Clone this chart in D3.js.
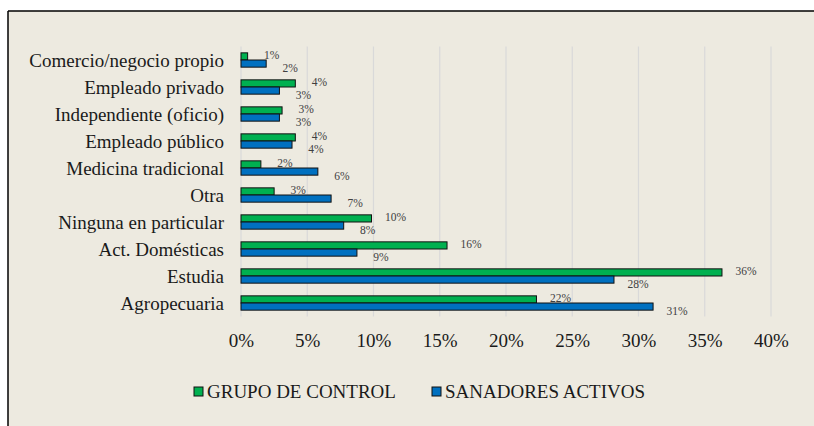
<!DOCTYPE html>
<html><head><meta charset="utf-8">
<script src="https://cdn.jsdelivr.net/npm/d3@7"></script>
<style>html,body{margin:0;padding:0;background:#fff;}svg{display:block;}</style>
</head><body>
<svg id="chart" width="814" height="426"></svg>
<script>
const categories = ["Comercio/negocio propio","Empleado privado","Independiente (oficio)","Empleado público","Medicina tradicional","Otra","Ninguna en particular","Act. Domésticas","Estudia","Agropecuaria"];
const grupoControl = [0.5, 4.1, 3.1, 4.1, 1.5, 2.5, 9.85, 15.55, 36.3, 22.3];
const sanadoresActivos = [1.9, 2.9, 2.9, 3.85, 5.8, 6.8, 7.75, 8.75, 28.15, 31.1];
const seriesNames = ["GRUPO DE CONTROL", "SANADORES ACTIVOS"];
const xTicks = [0, 5, 10, 15, 20, 25, 30, 35, 40];

const colors = ["#00B050", "#0070C0"];
const font = "'Liberation Serif','Times New Roman',serif";
const svg = d3.select("#chart");

svg.append("rect").attr("x",8).attr("y",11).attr("width",806).attr("height",415).attr("fill","#EDEAE0");
svg.append("line").attr("x1",8).attr("x2",814).attr("y1",11).attr("y2",11).attr("stroke","#000").attr("stroke-width",1.5);
svg.append("line").attr("x1",8).attr("x2",8).attr("y1",11).attr("y2",426).attr("stroke","#000").attr("stroke-width",1.5);

const x = d3.scaleLinear().domain([0,40]).range([241,771]);
const y0 = d3.scaleBand().domain(categories).range([46.5,316.5]).paddingInner(0.47).paddingOuter(0.235);
const y1 = d3.scaleBand().domain(seriesNames).range([0,y0.bandwidth()]);

// gridlines
svg.append("g").selectAll("line").data(xTicks).join("line")
  .attr("x1",d=>x(d)).attr("x2",d=>x(d)).attr("y1",46.5).attr("y2",316.5)
  .attr("stroke","#D9D9D9").attr("stroke-width",1.2);

// axis labels
const xAxis = d3.axisBottom(x).tickValues(xTicks).tickFormat(d=>d+"%").tickSize(0).tickPadding(0);
const gx = svg.append("g").attr("transform","translate(0,333)").call(xAxis);
gx.select(".domain").remove();
gx.selectAll("text").attr("font-family",font).attr("font-size",19).attr("fill","#1a1a1a").attr("dy","0.71em");

// category labels
svg.append("g").selectAll("text").data(categories).join("text")
  .attr("x",224).attr("y",d=>y0(d)+y0.bandwidth()/2).attr("dy","0.35em")
  .attr("text-anchor","end").attr("font-family",font).attr("font-size",19).attr("fill","#1a1a1a")
  .text(d=>d);

const seriesData = [grupoControl, sanadoresActivos];
seriesData.forEach((vals, si) => {
  const g = svg.append("g");
  g.selectAll("rect").data(vals).join("rect")
    .attr("x",x(0)).attr("y",(d,i)=>y0(categories[i])+y1(seriesNames[si]))
    .attr("width",d=>x(d)-x(0)).attr("height",y1.bandwidth())
    .attr("fill",colors[si]).attr("stroke","#111").attr("stroke-width",1);
  g.selectAll("text").data(vals).join("text")
    .attr("x",d=>x(d)+24)
    .attr("y",(d,i)=>y0(categories[i])+y1(seriesNames[si])+y1.bandwidth()/2 + (si===0?-1:4))
    .attr("dy","0.35em").attr("text-anchor","middle")
    .attr("font-family",font).attr("font-size",11.5).attr("fill","#404040")
    .text(d=>Math.round(d)+"%");
});

// legend
const legend = [{x:194, name:seriesNames[0], c:colors[0]},{x:432, name:seriesNames[1], c:colors[1]}];
const lg = svg.append("g").selectAll("g").data(legend).join("g");
lg.append("rect").attr("x",d=>d.x).attr("y",387).attr("width",9).attr("height",9)
  .attr("fill",d=>d.c).attr("stroke","#111").attr("stroke-width",1);
lg.append("text").attr("x",d=>d.x+13).attr("y",398).attr("font-family",font).attr("font-size",19)
  .attr("fill","#1a1a1a").text(d=>d.name);
</script>
</body></html>
